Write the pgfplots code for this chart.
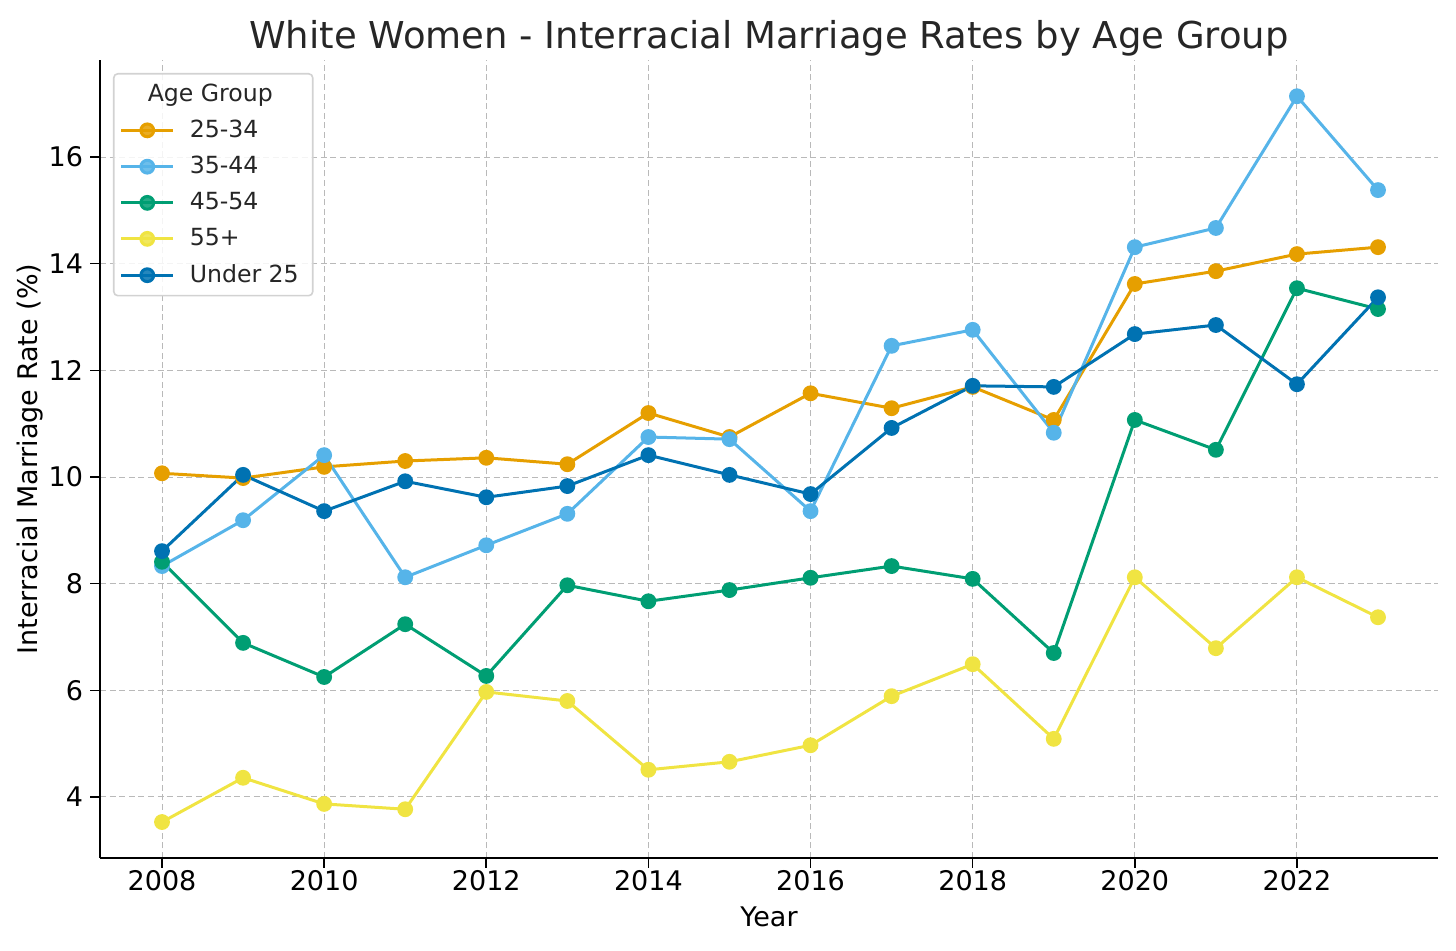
\documentclass[border=0pt]{standalone}
\usepackage{fontspec}
\setmainfont{DejaVu Sans}
\usepackage{pgfplots}
\usepackage{pgfplotstable}
\pgfplotsset{compat=1.18}

\definecolor{cOrange}{HTML}{E69F00}
\definecolor{cSky}{HTML}{56B4E9}
\definecolor{cGreen}{HTML}{009E73}
\definecolor{cYellow}{HTML}{F0E442}
\definecolor{cBlue}{HTML}{0072B2}

% year, rates (%) per age group
\pgfplotstableread{
year  a2534  a3544  a4554  a55   u25
2008  10.07  8.33   8.41   3.53  8.61
2009  9.98   9.19   6.89   4.36  10.04
2010  10.19  10.41  6.25   3.87  9.36
2011  10.30  8.12   7.24   3.77  9.92
2012  10.36  8.72   6.27   5.97  9.62
2013  10.24  9.31   7.97   5.80  9.83
2014  11.20  10.75  7.67   4.51  10.41
2015  10.75  10.71  7.88   4.66  10.04
2016  11.57  9.36   8.11   4.97  9.68
2017  11.29  12.46  8.33   5.89  10.92
2018  11.69  12.76  8.09   6.49  11.71
2019  11.07  10.83  6.70   5.09  11.69
2020  13.62  14.31  11.07  8.12  12.68
2021  13.86  14.67  10.51  6.79  12.85
2022  14.18  17.14  13.54  8.12  11.74
2023  14.31  15.38  13.15  7.37  13.37
}\rates

\begin{document}
\begin{tikzpicture}
\useasboundingbox (-50pt,-46.5pt) rectangle (678pt,429pt);
\begin{axis}[
	scale only axis,
	width=669pt, height=399pt,
	xmin=2007.235, xmax=2023.74,
	ymin=2.856, ymax=17.82,
	axis x line*=bottom,
	axis y line*=left,
	axis line style={line width=1pt, black},
	xtick={2008,2010,...,2022},
	ytick={4,6,...,16},
	tick align=outside,
	major tick length=5pt,
	tick style={line width=0.8pt, black},
	xticklabel style={/pgf/number format/1000 sep={}, yshift=2.5pt},
	/pgf/number format/assume math mode=true,
	tick label style={font=\fontsize{13.5}{16}\selectfont},
	grid=major,
	major grid style={gray!55, line width=0.5pt, dash pattern=on 3pt off 1.8pt},
	xlabel={Year},
	ylabel={Interracial Marriage Rate (\%)},
	label style={font=\fontsize{13.5}{16}\selectfont},
	xlabel style={at={(axis description cs:0.5,-0.0739)}, anchor=center},
	ylabel style={at={(axis description cs:-0.0523,0.5)}, anchor=center},
	title={White Women - Interracial Marriage Rates by Age Group},
	title style={at={(axis description cs:0.5,1.0125)}, anchor=center, font=\fontsize{18.5}{22}\selectfont, text=black!85},
	every axis plot/.append style={line width=1.5pt, mark=*, mark size=3.2pt},
	legend cell align=left,
	legend image code/.code={\draw[mark repeat=2,mark phase=2] plot coordinates {(0pt,0pt)(13pt,0pt)(26pt,0pt)};},
	legend style={at={(0.0097,0.9837)}, anchor=north west, draw=gray!35, line width=0.8pt, rounded corners=2pt,
		fill=white, fill opacity=0.85, text opacity=1, text=black!85,
		font=\fontsize{11.8}{14}\selectfont, row sep=3.9pt, column sep=3.5pt, inner xsep=3pt, inner ysep=3pt,
		nodes={inner xsep=4pt}},
]
\addlegendimage{empty legend}
\addlegendentry{\hspace*{-21pt}Age Group}
\addplot[color=cOrange, mark options={fill=cOrange}] table[x=year, y=a2534] {\rates};
\addlegendentry{25-34}
\addplot[color=cSky, mark options={fill=cSky}] table[x=year, y=a3544] {\rates};
\addlegendentry{35-44}
\addplot[color=cGreen, mark options={fill=cGreen}] table[x=year, y=a4554] {\rates};
\addlegendentry{45-54}
\addplot[color=cYellow, mark options={fill=cYellow}] table[x=year, y=a55] {\rates};
\addlegendentry{55+}
\addplot[color=cBlue, mark options={fill=cBlue}] table[x=year, y=u25] {\rates};
\addlegendentry{Under 25}
\end{axis}
\end{tikzpicture}
\end{document}
